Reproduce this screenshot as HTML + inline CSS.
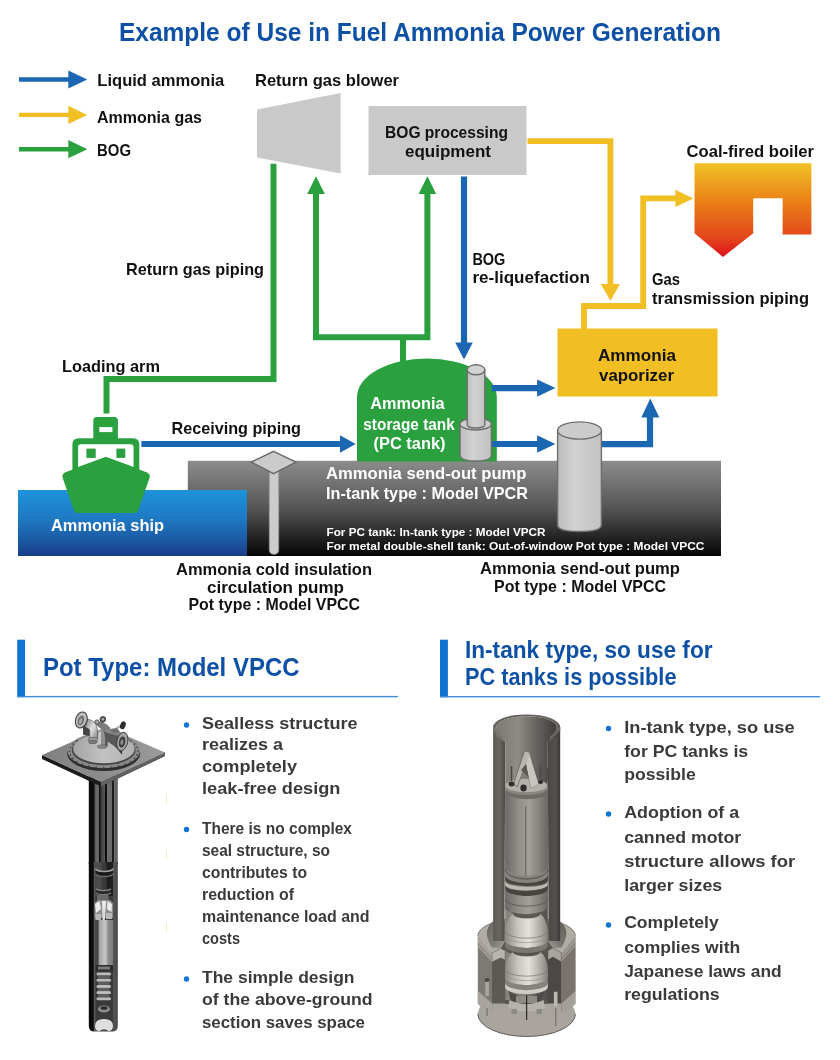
<!DOCTYPE html>
<html lang="en">
<head>
<meta charset="utf-8">
<title>Example of Use in Fuel Ammonia Power Generation</title>
<style>
html,body{margin:0;padding:0;background:#fff;}
body{width:840px;height:1060px;overflow:hidden;position:relative;font-family:"Liberation Sans","Noto Sans CJK JP",sans-serif;}
svg{position:absolute;left:0;top:0;display:block;will-change:transform;-webkit-font-smoothing:antialiased;}
svg text{font-family:"Liberation Sans","Noto Sans CJK JP",sans-serif;font-weight:700;}
.k{fill:#111;}
.w{fill:#fff;}
.b{fill:#0d50a5;}
.g{fill:#3a3a3a;}
</style>
</head>
<body>
<svg width="840" height="1060" viewBox="0 0 840 1060">
<defs>
  <linearGradient id="gGround" x1="0" y1="0" x2="0" y2="1">
    <stop offset="0" stop-color="#8c8c8c"/>
    <stop offset="0.5" stop-color="#555"/>
    <stop offset="0.85" stop-color="#1c1c1c"/>
    <stop offset="1" stop-color="#050505"/>
  </linearGradient>
  <linearGradient id="gWater" x1="0" y1="0" x2="0" y2="1">
    <stop offset="0" stop-color="#1e92da"/>
    <stop offset="0.45" stop-color="#1f78c2"/>
    <stop offset="0.8" stop-color="#1c55a0"/>
    <stop offset="1" stop-color="#173c88"/>
  </linearGradient>
  <linearGradient id="gBoiler" x1="0" y1="0" x2="0" y2="1">
    <stop offset="0" stop-color="#f1c223"/>
    <stop offset="0.45" stop-color="#ea7a18"/>
    <stop offset="0.8" stop-color="#e2451a"/>
    <stop offset="1" stop-color="#dc0f1e"/>
  </linearGradient>
  <linearGradient id="gCyl" x1="0" y1="0" x2="1" y2="0">
    <stop offset="0" stop-color="#bcbcbc"/>
    <stop offset="0.4" stop-color="#d2d2d2"/>
    <stop offset="1" stop-color="#c2c2c2"/>
  </linearGradient>
</defs>

<!-- ===== title ===== -->
<text class="b" x="119" y="41" font-size="25" textLength="602" lengthAdjust="spacingAndGlyphs">Example of Use in Fuel Ammonia Power Generation</text>

<!-- ===== legend ===== -->
<g id="legend">
  <path d="M19 79.500H71" stroke="#1c67b2" stroke-width="4.400" fill="none"/>
  <path d="M68.300 70.600L87.300 79.500L68.300 88.400Z" fill="#1c67b2"/>
  <path d="M19 114.900H71" stroke="#f1be23" stroke-width="4.400" fill="none"/>
  <path d="M68.300 105.800L87.300 114.900L68.300 124Z" fill="#f1be23"/>
  <path d="M19 149.200H71" stroke="#2aa03f" stroke-width="4.400" fill="none"/>
  <path d="M68.300 140.100L87.300 149.200L68.300 158.300Z" fill="#2aa03f"/>
  <text class="k" x="97.300" y="86" font-size="16.700" textLength="127" lengthAdjust="spacingAndGlyphs">Liquid ammonia</text>
  <text class="k" x="97" y="122.5" font-size="16.700" textLength="105" lengthAdjust="spacingAndGlyphs">Ammonia gas</text>
  <text class="k" x="97" y="156" font-size="16.700" textLength="34" lengthAdjust="spacingAndGlyphs">BOG</text>
</g>

<!-- ===== ground & water ===== -->
<rect x="187.800" y="460.800" width="533.200" height="95.200" fill="url(#gGround)"/>
<rect x="18" y="490" width="229" height="66" fill="url(#gWater)"/>

<!-- ===== blower / BOG equipment ===== -->
<path d="M257 109.600L340.600 93V173.5L257 157.400Z" fill="#c9c9c9"/>
<rect x="368.5" y="106" width="158" height="69" fill="#c9c9c9"/>
<text class="k" x="255" y="86.200" font-size="16.700" textLength="144" lengthAdjust="spacingAndGlyphs">Return gas blower</text>
<text class="k" x="385" y="137.700" font-size="16.700" textLength="123" lengthAdjust="spacingAndGlyphs">BOG processing</text>
<text class="k" x="405" y="157.200" font-size="16.700" textLength="86" lengthAdjust="spacingAndGlyphs">equipment</text>

<!-- ===== green pipes ===== -->
<g fill="none" stroke="#2aa03f" stroke-width="6" stroke-linejoin="miter">
  <path d="M273.5 163.800V379H106.500V413.600"/>
  <path d="M316 192V337.2H427.4V192"/>
  <path d="M403 337V362"/>
</g>
<path d="M316 176.300L324.800 194H307.200Z" fill="#2aa03f"/>
<path d="M427.4 176.300L436.200 194H418.600Z" fill="#2aa03f"/>

<!-- ===== tank ===== -->
<path d="M357 461.5V397A69.900 38.500 0 0 1 496.800 397V461.500Z" fill="#2aa03f"/>
<text class="w" x="370.200" y="409.100" font-size="16" textLength="74.400" lengthAdjust="spacingAndGlyphs">Ammonia</text>
<text class="w" x="363.300" y="429.500" font-size="16" textLength="91.500" lengthAdjust="spacingAndGlyphs">storage tank</text>
<text class="w" x="373.500" y="449.100" font-size="16" textLength="72" lengthAdjust="spacingAndGlyphs">(PC tank)</text>

<!-- ===== blue arrows ===== -->
<g fill="none" stroke="#1c67b2" stroke-width="6.2">
  <path d="M464 176.5V345"/>
  <path d="M141.4 444H342"/>
  <path d="M491.8 388.1H539"/>
  <path d="M489 444H539"/>
  <path d="M601 444.100H650V416"/>
</g>
<g fill="#1c67b2">
  <path d="M464 359.5L455.2 342.500H472.800Z"/>
  <path d="M355.700 444L340 435.2V452.800Z"/>
  <path d="M555.400 388.1L537.100 379.400V396.800Z"/>
  <path d="M555.400 444L537.100 435.300V452.700Z"/>
  <path d="M650.300 398.500L641.300 417.500H659.300Z"/>
</g>

<!-- ===== yellow ===== -->
<rect x="557.5" y="328.5" width="160" height="68" fill="#f1be23"/>
<g fill="none" stroke="#f1be23" stroke-width="5.8">
  <path d="M527.500 141.100H610.4V286"/>
  <path d="M584 329V306H643.2V198.400H677"/>
</g>
<path d="M610.4 300.8L600.8 284H620Z" fill="#f1be23"/>
<path d="M693.3 198.400L675.4 189.800V207Z" fill="#f1be23"/>
<text class="k" x="598" y="361" font-size="16.700" textLength="78" lengthAdjust="spacingAndGlyphs">Ammonia</text>
<text class="k" x="599" y="380.5" font-size="16.700" textLength="75" lengthAdjust="spacingAndGlyphs">vaporizer</text>

<!-- ===== boiler ===== -->
<path d="M694.5 163.2H811.4V234.5H782.600V198.3H753.200V233.3L723 257L694.5 233.3Z" fill="url(#gBoiler)"/>
<text class="k" x="686.5" y="157" font-size="16.700" textLength="127.5" lengthAdjust="spacingAndGlyphs">Coal-fired boiler</text>

<!-- ===== labels ===== -->
<text class="k" x="126" y="275" font-size="16.700" textLength="138" lengthAdjust="spacingAndGlyphs">Return gas piping</text>
<text class="k" x="62" y="371.5" font-size="16.700" textLength="98" lengthAdjust="spacingAndGlyphs">Loading arm</text>
<text class="k" x="171.5" y="433.5" font-size="16.700" textLength="129.5" lengthAdjust="spacingAndGlyphs">Receiving piping</text>
<text class="k" x="472.4" y="265" font-size="16.700" textLength="33" lengthAdjust="spacingAndGlyphs">BOG</text>
<text class="k" x="472.4" y="283.3" font-size="16.700" textLength="117.500" lengthAdjust="spacingAndGlyphs">re-liquefaction</text>
<text class="k" x="652" y="284.8" font-size="16.700" textLength="28" lengthAdjust="spacingAndGlyphs">Gas</text>
<text class="k" x="652" y="303.8" font-size="16.700" textLength="157" lengthAdjust="spacingAndGlyphs">transmission piping</text>

<!-- ===== ship ===== -->
<g id="ship">
  <rect x="93.300" y="416.900" width="24.600" height="25" rx="3.500" fill="#2aa03f"/>
  <rect x="99.300" y="427.100" width="13.100" height="5" fill="#fff"/>
  <path d="M72.400 478V444.700Q72.400 438.300 78.800 438.300H132.900Q139.300 438.300 139.300 444.700V478Z" fill="#2aa03f"/>
  <path d="M78.100 447.300Q78.100 444.300 81.100 444.300H130.600Q133.600 444.300 133.600 447.300V467.100L105.800 456.900L78.100 467.100Z" fill="#fff"/>
  <rect x="86.400" y="448.600" width="9.300" height="9.300" fill="#2aa03f"/>
  <rect x="116.400" y="448.600" width="8.900" height="9.300" fill="#2aa03f"/>
  <path d="M105.800 456.900L146.500 472.200Q150.800 474 149.500 478L138.200 510.300Q137.300 512.900 134.500 512.900H77.500Q74.800 512.900 73.900 510.300L62.700 478Q61.400 474 65.500 472.200Z" fill="#2aa03f"/>
</g>
<text class="w" x="51" y="531.300" font-size="16.700" textLength="113" lengthAdjust="spacingAndGlyphs">Ammonia ship</text>

<!-- ===== pumps in diagram ===== -->
<g id="coldpump">
  <path d="M269.300 466H278.700V549.500Q278.700 554.300 274 554.300Q269.300 554.300 269.300 549.500Z" fill="#cbcbcb" stroke="#9a9a9a" stroke-width="0.700"/>
  <path d="M273.600 451.400L295.900 462.100L273.600 473.600L251.300 462.100Z" fill="#cbcbcb" stroke="#686868" stroke-width="1.400"/>
</g>
<g id="intank" stroke="#6e6e6e" stroke-width="1.400">
  <path d="M460 424V455Q460 461 475.700 461Q491.400 461 491.400 455V424Z" fill="url(#gCyl)"/>
  <ellipse cx="475.700" cy="424" rx="15.700" ry="6" fill="#cdcdcd"/>
  <path d="M467.200 369.800V424.500Q467.200 428 476 428Q484.800 428 484.800 424.500V369.800Z" fill="url(#gCyl)"/>
  <ellipse cx="476" cy="369.800" rx="8.800" ry="5" fill="#d2d2d2"/>
</g>
<g id="potpump" stroke="#6e6e6e" stroke-width="1.400">
  <path d="M557.600 430.500V525Q557.600 531.500 579.500 531.500Q601.400 531.500 601.400 525V430.500Z" fill="url(#gCyl)"/>
  <ellipse cx="579.500" cy="430.500" rx="21.900" ry="8.600" fill="#cbcbcb"/>
</g>

<!-- ===== ground texts ===== -->
<text class="w" x="326" y="479.3" font-size="16.700" textLength="200.5" lengthAdjust="spacingAndGlyphs">Ammonia send-out pump</text>
<text class="w" x="326" y="498.8" font-size="16.700" textLength="202" lengthAdjust="spacingAndGlyphs">In-tank type : Model VPCR</text>
<text class="w" x="326.5" y="535.7" font-size="11.2" textLength="219" lengthAdjust="spacingAndGlyphs">For PC tank: In-tank type : Model VPCR</text>
<text class="w" x="326.5" y="550.2" font-size="11.2" textLength="378" lengthAdjust="spacingAndGlyphs">For metal double-shell tank: Out-of-window Pot type : Model VPCC</text>

<!-- ===== under-ground labels ===== -->
<text class="k" x="176" y="575" font-size="16.700" textLength="196" lengthAdjust="spacingAndGlyphs">Ammonia cold insulation</text>
<text class="k" x="207" y="592.5" font-size="16.700" textLength="137" lengthAdjust="spacingAndGlyphs">circulation pump</text>
<text class="k" x="188.5" y="610" font-size="16.700" textLength="171.5" lengthAdjust="spacingAndGlyphs">Pot type : Model VPCC</text>
<text class="k" x="480" y="574" font-size="16.700" textLength="200" lengthAdjust="spacingAndGlyphs">Ammonia send-out pump</text>
<text class="k" x="494" y="591.5" font-size="16.700" textLength="172" lengthAdjust="spacingAndGlyphs">Pot type : Model VPCC</text>

<!-- ===== section headers ===== -->
<rect x="17.200" y="639.700" width="7.800" height="57.500" fill="#1173d4"/>
<rect x="17.200" y="695.900" width="380.800" height="1.400" fill="#3f8ddc"/>
<text class="b" x="43" y="675.800" font-size="26" textLength="256.5" lengthAdjust="spacingAndGlyphs">Pot Type: Model VPCC</text>
<rect x="440" y="639.700" width="7.900" height="57.500" fill="#1173d4"/>
<rect x="440" y="696" width="380" height="1.4" fill="#3f8ddc"/>
<text class="b" x="465" y="657.5" font-size="24" textLength="247.5" lengthAdjust="spacingAndGlyphs">In-tank type, so use for</text>
<text class="b" x="465" y="685" font-size="24" textLength="211.5" lengthAdjust="spacingAndGlyphs">PC tanks is possible</text>

<!--PUMPIMAGES_START-->
<defs>
  <linearGradient id="gShaft" x1="0" y1="0" x2="1" y2="0">
    <stop offset="0" stop-color="#0c0c0c"/>
    <stop offset="0.18" stop-color="#0e0e0e"/>
    <stop offset="0.2" stop-color="#3a3a3a"/>
    <stop offset="0.24" stop-color="#666"/>
    <stop offset="0.34" stop-color="#6a6a6a"/>
    <stop offset="0.355" stop-color="#0e0e0e"/>
    <stop offset="0.395" stop-color="#0e0e0e"/>
    <stop offset="0.41" stop-color="#3a3a3a"/>
    <stop offset="0.55" stop-color="#585858"/>
    <stop offset="0.565" stop-color="#0e0e0e"/>
    <stop offset="0.615" stop-color="#0e0e0e"/>
    <stop offset="0.63" stop-color="#707070"/>
    <stop offset="0.79" stop-color="#686868"/>
    <stop offset="0.805" stop-color="#1a1a1a"/>
    <stop offset="0.87" stop-color="#1a1a1a"/>
    <stop offset="0.885" stop-color="#6c6c6c"/>
    <stop offset="1" stop-color="#5a5a5a"/>
  </linearGradient>
  <linearGradient id="gShaftLow" x1="0" y1="0" x2="1" y2="0">
    <stop offset="0" stop-color="#0a0a0a"/>
    <stop offset="0.16" stop-color="#0c0c0c"/>
    <stop offset="0.17" stop-color="#5a5a5a"/>
    <stop offset="0.83" stop-color="#3a3a3a"/>
    <stop offset="0.84" stop-color="#565656"/>
    <stop offset="1" stop-color="#464646"/>
  </linearGradient>
  <linearGradient id="gMotorS" x1="0" y1="0" x2="1" y2="0">
    <stop offset="0" stop-color="#444"/>
    <stop offset="0.16" stop-color="#484848"/>
    <stop offset="0.18" stop-color="#9c9c9c"/>
    <stop offset="0.5" stop-color="#c4c4c4"/>
    <stop offset="0.68" stop-color="#b0b0b0"/>
    <stop offset="0.7" stop-color="#3a3a3a"/>
    <stop offset="0.74" stop-color="#8c8c8c"/>
    <stop offset="1" stop-color="#7c7c7c"/>
  </linearGradient>
  <linearGradient id="gPipeL" x1="0" y1="0" x2="1" y2="1">
    <stop offset="0" stop-color="#8c8c8c"/>
    <stop offset="0.5" stop-color="#e0e0e0"/>
    <stop offset="1" stop-color="#7a7a7a"/>
  </linearGradient>
  <linearGradient id="gPlate" x1="0" y1="0" x2="1" y2="0">
    <stop offset="0" stop-color="#808080"/>
    <stop offset="1" stop-color="#9a9a9a"/>
  </linearGradient>
  <linearGradient id="gDisc" x1="0" y1="0" x2="1" y2="0">
    <stop offset="0" stop-color="#a4a4a4"/>
    <stop offset="0.5" stop-color="#c2c2c2"/>
    <stop offset="1" stop-color="#b0b0b0"/>
  </linearGradient>
  <!-- right pump -->
  <linearGradient id="gOuterL" x1="0" y1="0" x2="1" y2="0">
    <stop offset="0" stop-color="#5a5853"/>
    <stop offset="0.5" stop-color="#6a6762"/>
    <stop offset="1" stop-color="#4d4b47"/>
  </linearGradient>
  <linearGradient id="gOuterR" x1="0" y1="0" x2="1" y2="0">
    <stop offset="0" stop-color="#4a4844"/>
    <stop offset="0.6" stop-color="#54524d"/>
    <stop offset="1" stop-color="#3a3835"/>
  </linearGradient>
  <linearGradient id="gInner" x1="0" y1="0" x2="1" y2="0">
    <stop offset="0" stop-color="#7c7974"/>
    <stop offset="0.35" stop-color="#8f8c86"/>
    <stop offset="0.7" stop-color="#625f5b"/>
    <stop offset="1" stop-color="#3f3d3a"/>
  </linearGradient>
  <linearGradient id="gMotorB" x1="0" y1="0" x2="1" y2="0">
    <stop offset="0" stop-color="#6c6a66"/>
    <stop offset="0.3" stop-color="#8f8c87"/>
    <stop offset="0.55" stop-color="#a29f99"/>
    <stop offset="0.8" stop-color="#86837e"/>
    <stop offset="1" stop-color="#6a6764"/>
  </linearGradient>
  <linearGradient id="gBowl" x1="0" y1="0" x2="1" y2="0">
    <stop offset="0" stop-color="#8e8a85"/>
    <stop offset="0.3" stop-color="#c9c5bf"/>
    <stop offset="0.55" stop-color="#e4e1dc"/>
    <stop offset="0.8" stop-color="#b4b0aa"/>
    <stop offset="1" stop-color="#85817c"/>
  </linearGradient>
  <linearGradient id="gFunL" x1="0" y1="0" x2="1" y2="1">
    <stop offset="0" stop-color="#67635f"/>
    <stop offset="0.6" stop-color="#807c77"/>
    <stop offset="1" stop-color="#a6a19b"/>
  </linearGradient>
  <linearGradient id="gFunR" x1="1" y1="0" x2="0" y2="1">
    <stop offset="0" stop-color="#5f5c58"/>
    <stop offset="0.6" stop-color="#7a7671"/>
    <stop offset="1" stop-color="#a29d97"/>
  </linearGradient>
  <linearGradient id="gBaseW" x1="0" y1="0" x2="1" y2="0">
    <stop offset="0" stop-color="#6b6763"/>
    <stop offset="0.2" stop-color="#86827d"/>
    <stop offset="0.5" stop-color="#8e8a85"/>
    <stop offset="0.85" stop-color="#7a7671"/>
    <stop offset="1" stop-color="#5e5b57"/>
  </linearGradient>
</defs>

<!-- ===== left pump image (pot type) ===== -->
<g id="potimg">
  <!-- faint artefact ticks -->
  <rect x="166" y="794" width="1" height="10" fill="#f6ecc4"/>
  <rect x="166" y="850" width="1" height="9" fill="#f6ecc4"/>
  <rect x="166" y="923" width="1" height="9" fill="#f6ecc4"/>
  <!-- shaft -->
  <rect x="88.800" y="772" width="29" height="92" fill="url(#gShaft)"/>
  <path d="M88.800 862H117.800V1026Q117.800 1031.500 112 1031.500H94.500Q88.800 1031.500 88.800 1026Z" fill="url(#gShaftLow)"/>
  <!-- cut-away interior -->
  <rect x="95.400" y="862" width="17.700" height="164" fill="#3a3a3a"/>
  <rect x="95.600" y="862" width="6" height="34" fill="#4c4c4c"/>
  <rect x="106.500" y="862" width="6.500" height="34" fill="#1e1e1e"/>
  <path d="M95.600 869A8.700 3 0 0 0 113 869V874A8.700 3 0 0 1 95.600 874Z" fill="#1a1a1a"/>
  <path d="M95.600 868.500A8.700 3 0 0 0 113 868.500" fill="none" stroke="#a0a0a0" stroke-width="1.600"/>
  <path d="M95.600 873.500A8.700 3 0 0 0 113 873.500" fill="none" stroke="#6a6a6a" stroke-width="1.300"/>
  <path d="M95.600 889A8.700 3 0 0 0 111 889V894A8.700 3 0 0 1 95.600 894Z" fill="#2a2a2a"/>
  <path d="M95.600 889A8.700 3 0 0 0 111 889" fill="none" stroke="#8a8a8a" stroke-width="1.400"/>
  <path d="M95.600 893A8.700 3 0 0 0 111 893" fill="none" stroke="#7a7a7a" stroke-width="1.200"/>
  <rect x="97" y="895" width="11.500" height="7" fill="#6a6a6a"/>
  <path d="M94.600 903L98 900H110L113 903V918H94.600Z" fill="#8e8e8e"/>
  <path d="M95 904L99.500 901L101 909L96 913ZM102 901H106L105.500 910H102.500ZM107.500 901L112 904L111.500 912L107 909Z" fill="#ececec"/>
  <path d="M95.500 914H101V920H95.500ZM106 913H112V919H106Z" fill="#b8b8b8"/>
  <path d="M102 908H105.500L104.800 920H102.600Z" fill="#dcdcdc"/>
  <rect x="95.600" y="920" width="17.400" height="46" fill="url(#gMotorS)"/>
  <rect x="95.600" y="965" width="17.400" height="6" fill="#2c2c2c"/>
  <rect x="98" y="966.500" width="12" height="3" fill="#7a7a7a"/>
  <g fill="#bcbcbc">
    <rect x="96.500" y="972.500" width="14.500" height="3" rx="1.500"/>
    <rect x="96.500" y="978.700" width="14.500" height="3" rx="1.500"/>
    <rect x="96.500" y="984.900" width="14.500" height="3" rx="1.500"/>
    <rect x="96.500" y="991.100" width="14.500" height="3" rx="1.500"/>
    <rect x="96.500" y="997.300" width="14.500" height="3" rx="1.500"/>
  </g>
  <g fill="#5e5e5e">
    <rect x="98" y="975.500" width="11.500" height="3.200"/>
    <rect x="98" y="981.700" width="11.500" height="3.200"/>
    <rect x="98" y="987.900" width="11.500" height="3.200"/>
    <rect x="98" y="994.100" width="11.500" height="3.200"/>
  </g>
  <ellipse cx="104" cy="1009" rx="6" ry="3.600" fill="#8e8e8e"/>
  <ellipse cx="104" cy="1008" rx="3.600" ry="1.800" fill="#2c2c2c"/>
  <path d="M95 1026Q95 1019 104 1019Q113 1019 113 1026Q113 1031 108.500 1031Q104 1027.500 99.500 1031Q95 1031 95 1026Z" fill="#dedede"/>
  <!-- square plate -->
  <path d="M42 755L101 782L165 752.5V756L101 786.500L42 759Z" fill="#1c1c1c"/>
  <path d="M101 782L165 752.5V756L101 786.500Z" fill="#626262"/>
  <path d="M42 755L106 727L165 752.5L101 782Z" fill="url(#gPlate)"/>
  <!-- flange disc -->
  <ellipse cx="103.7" cy="753" rx="36.6" ry="18" fill="#2e2e2e"/>
  <ellipse cx="103.7" cy="750.6" rx="36.4" ry="17.6" fill="#8a8a8a"/>
  <ellipse cx="103.7" cy="750" rx="32" ry="15.2" fill="#474747"/>
  <ellipse cx="103.9" cy="748.8" rx="30.8" ry="14.5" fill="url(#gDisc)"/>
  <g fill="#3a3a3a"><circle cx="137.9" cy="751.2" r="0.8"/><circle cx="137.0" cy="754.9" r="0.8"/><circle cx="134.5" cy="758.4" r="0.8"/><circle cx="130.4" cy="761.5" r="0.8"/><circle cx="125.0" cy="764.1" r="0.8"/><circle cx="118.5" cy="766.1" r="0.8"/><circle cx="111.3" cy="767.3" r="0.8"/><circle cx="103.7" cy="767.7" r="0.8"/><circle cx="96.1" cy="767.3" r="0.8"/><circle cx="88.9" cy="766.1" r="0.8"/><circle cx="82.4" cy="764.1" r="0.8"/><circle cx="77.0" cy="761.5" r="0.8"/><circle cx="72.9" cy="758.4" r="0.8"/><circle cx="70.4" cy="754.9" r="0.8"/><circle cx="69.5" cy="751.2" r="0.8"/><circle cx="70.4" cy="747.5" r="0.8"/><circle cx="72.9" cy="744.0" r="0.8"/><circle cx="77.0" cy="740.9" r="0.8"/><circle cx="130.4" cy="740.9" r="0.8"/><circle cx="134.5" cy="744.0" r="0.8"/><circle cx="137.0" cy="747.5" r="0.8"/></g>
  <!-- piping on top -->
  <path d="M83.0 725.4L97.0 730.2L97.0 738.2L83.0 734.5Z" fill="#454545"/>
  <path d="M84.1 717.6L91.1 720.5L91.1 728.4L84.1 725.9Z" fill="#8e8e8e"/>
  <path d="M87.5 719.2Q96.5 720.5 97.3 729L97.6 738.5Q93.5 741.5 89.6 738.5L89.8 731.5Q89.8 728.3 85.5 727.6Z" fill="url(#gPipeL)" stroke="#4e4e4e" stroke-width="0.6"/>
  <ellipse cx="93.2" cy="739.6" rx="5.2" ry="2.2" fill="#9a9a9a" stroke="#4a4a4a" stroke-width="0.6"/>
  <ellipse cx="92.8" cy="742" rx="4.2" ry="1.8" fill="#7a7a7a" stroke="#4a4a4a" stroke-width="0.5"/>
  <ellipse cx="81.3" cy="720" rx="5.7" ry="8.2" transform="rotate(18 81.3 720)" fill="#bdbdbd" stroke="#3e3e3e" stroke-width="1"/>
  <ellipse cx="80.9" cy="720.6" rx="3" ry="5" transform="rotate(18 80.9 720.6)" fill="#6e6e6e"/>
  <ellipse cx="80.600" cy="721" rx="1.500" ry="2.800" transform="rotate(18 80.600 721)" fill="#a8a8a8"/>
  <path d="M95.4 723.8L101.3 721.1L107.1 724.8L110.4 728.0L105.0 731.3L99.6 728.0Z" fill="#7c7c7c"/>
  <circle cx="97" cy="722.1" r="2.2" fill="#a6a6a6" stroke="#3e3e3e" stroke-width="0.800"/>
  <circle cx="102.9" cy="719.3" r="2.8" fill="#5a5a5a" stroke="#333" stroke-width="0.800"/>
  <circle cx="102.900" cy="719.300" r="1.200" fill="#b0b0b0"/>
  <path d="M98.2 733Q102.8 729.5 107.6 733V746Q102.8 748.5 98 746Z" fill="#8f8f8f"/>
  <path d="M98.2 733Q99.500 731.500 101 731V747.3Q99.300 747 98 746Z" fill="#c6c6c6"/>
  <path d="M105 731.5Q106.5 732 107.600 733V746Q106.500 746.800 105 747.200Z" fill="#5c5c5c"/>
  <ellipse cx="102.3" cy="746.6" rx="5" ry="1.8" fill="#8a8a8a" stroke="#444" stroke-width="0.5"/>
  <path d="M106.1 737.1L115.7 747.3L122.1 754.8L122.1 747.3L116.8 740.9Z" fill="#383838"/>
  <path d="M103.4 730.2L108.2 728.0L121.6 733.1L124.3 737.1L120.0 750.0L106.1 740.4Z" fill="#585858"/>
  <path d="M103.4 730.2L108.2 728.0L121.6 733.1L119.5 736.1L105.5 732.6Z" fill="#858585"/>
  <ellipse cx="122.3" cy="741.5" rx="5.4" ry="9.400" transform="rotate(12 122.3 741.5)" fill="#a2a2a2" stroke="#3c3c3c" stroke-width="0.9"/>
  <ellipse cx="122.1" cy="742" rx="3.1" ry="5.700" transform="rotate(12 122.1 742)" fill="#3d3d3d"/>
  <ellipse cx="121.900" cy="742.300" rx="1.500" ry="2.800" transform="rotate(12 121.900 742.300)" fill="#8c8c8c"/>
  <path d="M115.7 728.8L121.6 725.6" stroke="#b8b8b8" stroke-width="2.4" fill="none"/>
  <path d="M110.4 729.1L116.8 728.0L120.0 731.8L113.6 733.1Z" fill="#6e6e6e"/>
  <ellipse cx="122.900" cy="725.300" rx="2.700" ry="4" transform="rotate(20 122.900 725.300)" fill="#2c2c2c"/>
</g>

<!-- ===== right pump image (in-tank type) ===== -->
<g id="intankimg">
  <ellipse cx="526.6" cy="1014" rx="48.8" ry="22.5" fill="#aaa49e"/>
  <path d="M477.8 1014A48.8 22.5 0 0 0 575.4 1014" fill="none" stroke="#5f5b57" stroke-width="1"/>
  <path d="M492.1 936H561.4V1008L548 1004H505L492.100 1008Z" fill="#5b5854"/>
  <path d="M477.8 935.7L492.1 952.9V1012Q482 1009 477.800 1003.600Z" fill="#7d7974"/>
  <path d="M575.4 935.7L561.4 952.9V1012Q571 1009 575.400 1003.600Z" fill="#77736e"/>
  <path d="M477.8 935.7V946.4L492.1 962.1V952.9Z" fill="#a6a19b"/>
  <path d="M575.4 935.7V946.4L561.4 962.1V952.9Z" fill="#9a958f"/>
  <path d="M477.8 943.4L492.1 959.500M575.400 943.400L561.400 959.500" stroke="#6d6965" stroke-width="0.700" fill="none"/>
  <path d="M477.8 990.7L492.1 1003.6V1012.500Q482 1009.500 477.800 1003.600Z" fill="#a8a39d"/>
  <path d="M575.4 990.7L561.4 1003.6V1012.500Q571 1009.500 575.400 1003.600Z" fill="#a49f99"/>
  <path d="M477.8 935.7A48.8 18 0 0 1 575.4 935.7L561.4 952.9L552.900 948L548 941H505L500.700 948.600L492.100 952.900Z" fill="#b0aba5"/>
  <path d="M477.8 935.7A48.8 18 0 0 1 575.4 935.7" fill="none" stroke="#6a6662" stroke-width="0.800"/>
  <path d="M492.9 921.5Q485.500 928 487.100 935.700Q488.500 943 492.100 947.500L500.700 948.600L505 941V921.500Z" fill="url(#gFunL)"/>
  <path d="M560.300 921.5Q567.700 928 566.100 935.700Q564.700 943 561.400 947.500L552.900 948L548 941V921.500Z" fill="url(#gFunR)"/>
  <path d="M492.1 952.9L500.7 948.6L505 950.7V960L500.700 957.900L492.100 962.100Z" fill="#b9b4ae" stroke="#6d6965" stroke-width="0.500"/>
  <path d="M561.4 952.9L552.9 947.9L547.9 950.7V960L552.900 957.100L561.400 962.100Z" fill="#a9a49e" stroke="#5d5a56" stroke-width="0.500"/>
  <path d="M492.1 962.1L500.7 957.9L505 960V1003.6L492.100 1011Z" fill="#5d5a56"/>
  <path d="M561.4 962.1L552.9 957.1L547.9 960V1003.6L561.400 1011Z" fill="#4b4845"/>
  <path d="M561.4 962.1V1003.6L575.400 990.700V946.400Z" fill="#78736f"/>
  <path d="M492.1 1003.6L505 1003.6V1008L492.100 1012.500Z" fill="#a8a39d"/>
  <path d="M561.4 1003.6L547.9 1003.6V1008L561.400 1012.500Z" fill="#a8a39d"/>
  <path d="M493.1 727V941H504.500L505.200 742Z" fill="url(#gOuterL)"/>
  <path d="M560.200 727V941H548.500L547.800 742Z" fill="url(#gOuterR)"/>
  <path d="M496.5 727A30.100 10.800 0 0 1 556.700 727V736L547.800 742V1000H505.200V742L496.500 736Z" fill="url(#gInner)"/>
  <path d="M493.100 727A33.5 12.600 0 0 1 560.200 727L556.700 727A30.100 10.800 0 0 0 496.500 727Z" fill="#65625d"/>
  <path d="M493.100 727V730.500L502.500 741V736.500Q497 732.500 496.500 727Z" fill="#77746f"/>
  <path d="M560.200 727V730.500L550 741V736.500Q556 732.500 556.700 727Z" fill="#6a6763"/>
  <path d="M505.2 792.0A21.3 7.2 0 0 0 547.8 792.0V869.0A21.3 10 0 0 1 505.2 869.0Z" fill="url(#gMotorB)"/>
  <rect x="525.300" y="806" width="0.9" height="70" fill="#5c5a56"/>
  <ellipse cx="526.5" cy="792" rx="21.300" ry="7" fill="#6f6c68"/>
  <ellipse cx="526.5" cy="788" rx="21.300" ry="7" fill="#8a8782"/>
  <ellipse cx="526.5" cy="785.500" rx="20.800" ry="6.800" fill="#b3b0aa"/>
  <path d="M524.500 751L529.500 752L538.500 784L531 788L526 764L517 787L513.500 784Z" fill="#b9b6b0" stroke="#55524e" stroke-width="0.6"/>
  <path d="M526 764L531 788L538.500 784L529.500 756Z" fill="#c9c6c0"/>
  <path d="M521 770L526 764L528.500 777Z" fill="#5b5955"/>
  <g stroke="#4a4845" stroke-width="1.6"><path d="M511.500 766V781"/><path d="M540.500 764V779"/><path d="M547 768V781"/></g>
  <g fill="#2f2e2c"><ellipse cx="511.500" cy="784" rx="3" ry="2.4"/><ellipse cx="523.500" cy="788" rx="3.2" ry="3.4"/><ellipse cx="540.500" cy="782" rx="2.6" ry="2"/></g>
  <path d="M505.2 866.0A21.3 10.0 0 0 0 547.8 866.0V875.0A21.3 8.0 0 0 1 505.2 875.0Z" fill="#86837e"/>
  <path d="M505.2 869.0A21.3 10.0 0 0 0 547.8 869.0" fill="none" stroke="#4c4a47" stroke-width="0.9"/>
  <path d="M505.2 875.0A21.3 8.0 0 0 0 547.8 875.0V880.0A21.3 6.0 0 0 1 505.2 880.0Z" fill="#47453f"/>
  <path d="M505.2 881.0A21.3 6.0 0 0 0 547.8 881.0V884.5A21.3 6.0 0 0 1 505.2 884.5Z" fill="#bdbab4"/>
  <path d="M505.2 885.0A21.3 6.0 0 0 0 547.8 885.0V889.0A21.3 7.2 0 0 1 505.2 889.0Z" fill="#47453f"/>
  <path d="M505.2 889.0A21.3 7.2 0 0 0 547.8 889.0V907.0A21.3 7.2 0 0 1 505.2 907.0Z" fill="url(#gMotorB)"/>
  <path d="M505.2 899.0A21.3 7.2 0 0 0 547.8 899.0" fill="none" stroke="#55534f" stroke-width="0.8"/>
  <path d="M505.2 907A21.3 7.2 0 0 0 547.8 907L540.200 914A13.600 4.600 0 0 1 513 914Z" fill="#5c5955"/>
  <path d="M513.0 914.0A13.6 4.6 0 0 0 540.2 914.0Q546.3 918.0 547.8 930.0V940.7A21.3 7.2 0 0 1 505.2 940.7V930.0Q506.7 918.0 513.0 914.0Z" fill="url(#gBowl)"/><path d="M505.2 931.0A21.3 7.2 0 0 0 547.8 931.0" fill="none" stroke="#77736e" stroke-width="0.7"/><path d="M505.2 935.5A21.3 7.2 0 0 0 547.8 935.5" fill="none" stroke="#8d8984" stroke-width="0.6"/>
  <path d="M505.2 940.7A21.3 7.2 0 0 0 547.8 940.7V946.0A21.3 7.2 0 0 1 505.2 946.0Z" fill="#7a7671"/>
  <path d="M505.2 946.0A21.3 7.2 0 0 0 547.8 946.0V948.5A21.3 7.2 0 0 1 505.2 948.5Z" fill="#55524e"/>
  <path d="M505.2 948.500A21.3 7.2 0 0 0 547.8 948.500L540.200 952A13.600 4.600 0 0 1 513 952Z" fill="#5c5955"/>
  <path d="M513.0 952.0A13.6 4.6 0 0 0 540.2 952.0Q546.3 956.0 547.8 968.0V978.0A21.3 7.2 0 0 1 505.2 978.0V968.0Q506.7 956.0 513.0 952.0Z" fill="url(#gBowl)"/><path d="M505.2 969.0A21.3 7.2 0 0 0 547.8 969.0" fill="none" stroke="#77736e" stroke-width="0.7"/><path d="M505.2 973.5A21.3 7.2 0 0 0 547.8 973.5" fill="none" stroke="#8d8984" stroke-width="0.6"/>
  <path d="M505.2 978.0A21.3 7.2 0 0 0 547.8 978.0V983.0A21.3 7.2 0 0 1 505.2 983.0Z" fill="#86827d"/>
  <path d="M505.2 983.0A21.3 7.2 0 0 0 547.8 983.0V987.0A21.3 7.2 0 0 1 505.2 987.0Z" fill="#d0ccc6"/>
  <path d="M508.500 991Q526.600 1002 544.500 991L541.500 1004Q526.600 1010 511.500 1004Z" fill="#4d4a47"/>
  <path d="M516 996H537V1003H516Z" fill="#8f8b86"/>
  <path d="M509.500 1000Q526.600 1008 543.500 1000L545 1008Q526.600 1015 508 1008Z" fill="#b7b2ac"/>
  <rect x="511.500" y="1009" width="5.500" height="5" fill="#8c8883"/><rect x="536.500" y="1009" width="5.500" height="5" fill="#8c8883"/>
  <path d="M526.600 995V1020" stroke="#2c2b29" stroke-width="1.200"/>
  <rect x="485.300" y="981" width="3.600" height="15" fill="#aaa59f"/><ellipse cx="487.100" cy="980" rx="2.600" ry="2" fill="#4c4a46"/>
  <rect x="553.900" y="991" width="3.600" height="15" fill="#bdb8b2"/><ellipse cx="555.700" cy="990" rx="2.600" ry="2" fill="#4c4a46"/>
  <path d="M487.100 1008V1016M555.700 1008V1026" stroke="#7b7772" stroke-width="1.400"/>
</g>
<!--PUMPIMAGES_END-->

<!--BULLETS_START-->
<!-- ===== bullets left ===== -->
<g class="g" font-size="16.700">
  <circle cx="186.500" cy="725" r="2.700" fill="#1173d4"/>
  <text x="202" y="728.900" textLength="155.500" lengthAdjust="spacingAndGlyphs">Sealless structure</text>
  <text x="202" y="750.400" textLength="81" lengthAdjust="spacingAndGlyphs">realizes a</text>
  <text x="202" y="772.400" textLength="95" lengthAdjust="spacingAndGlyphs">completely</text>
  <text x="202" y="794" textLength="138.500" lengthAdjust="spacingAndGlyphs">leak-free design</text>
  <circle cx="186.500" cy="829.5" r="2.700" fill="#1173d4"/>
  <text x="202" y="834" textLength="150" lengthAdjust="spacingAndGlyphs">There is no complex</text>
  <text x="202" y="856" textLength="128" lengthAdjust="spacingAndGlyphs">seal structure, so</text>
  <text x="202" y="878" textLength="105" lengthAdjust="spacingAndGlyphs">contributes to</text>
  <text x="202" y="899.5" textLength="92" lengthAdjust="spacingAndGlyphs">reduction of</text>
  <text x="202" y="921.5" textLength="167.500" lengthAdjust="spacingAndGlyphs">maintenance load and</text>
  <text x="202" y="943.5" textLength="38" lengthAdjust="spacingAndGlyphs">costs</text>
  <circle cx="186.500" cy="979" r="2.700" fill="#1173d4"/>
  <text x="202" y="982.500" textLength="152.500" lengthAdjust="spacingAndGlyphs">The simple design</text>
  <text x="202" y="1005" textLength="170.500" lengthAdjust="spacingAndGlyphs">of the above-ground</text>
  <text x="202" y="1027.5" textLength="163" lengthAdjust="spacingAndGlyphs">section saves space</text>
</g>
<!-- ===== bullets right ===== -->
<g class="g" font-size="16.700">
  <circle cx="608.5" cy="728.5" r="2.700" fill="#1173d4"/>
  <text x="624.2" y="732.5" textLength="170.500" lengthAdjust="spacingAndGlyphs">In-tank type, so use</text>
  <text x="624.2" y="756.5" textLength="124" lengthAdjust="spacingAndGlyphs">for PC tanks is</text>
  <text x="624.2" y="780.0" textLength="71.500" lengthAdjust="spacingAndGlyphs">possible</text>
  <circle cx="608.5" cy="814" r="2.700" fill="#1173d4"/>
  <text x="624.2" y="818.0" textLength="115" lengthAdjust="spacingAndGlyphs">Adoption of a</text>
  <text x="624.2" y="842.5" textLength="117" lengthAdjust="spacingAndGlyphs">canned motor</text>
  <text x="624.2" y="866.5" textLength="171" lengthAdjust="spacingAndGlyphs">structure allows for</text>
  <text x="624.2" y="890.5" textLength="98" lengthAdjust="spacingAndGlyphs">larger sizes</text>
  <circle cx="608.5" cy="925" r="2.700" fill="#1173d4"/>
  <text x="624.2" y="928.0" textLength="94.500" lengthAdjust="spacingAndGlyphs">Completely</text>
  <text x="624.2" y="952.5" textLength="116" lengthAdjust="spacingAndGlyphs">complies with</text>
  <text x="624.2" y="976.5" textLength="157.500" lengthAdjust="spacingAndGlyphs">Japanese laws and</text>
  <text x="624.2" y="1000.0" textLength="95.500" lengthAdjust="spacingAndGlyphs">regulations</text>
</g>
<!--BULLETS_END-->
</svg>
</body>
</html>
